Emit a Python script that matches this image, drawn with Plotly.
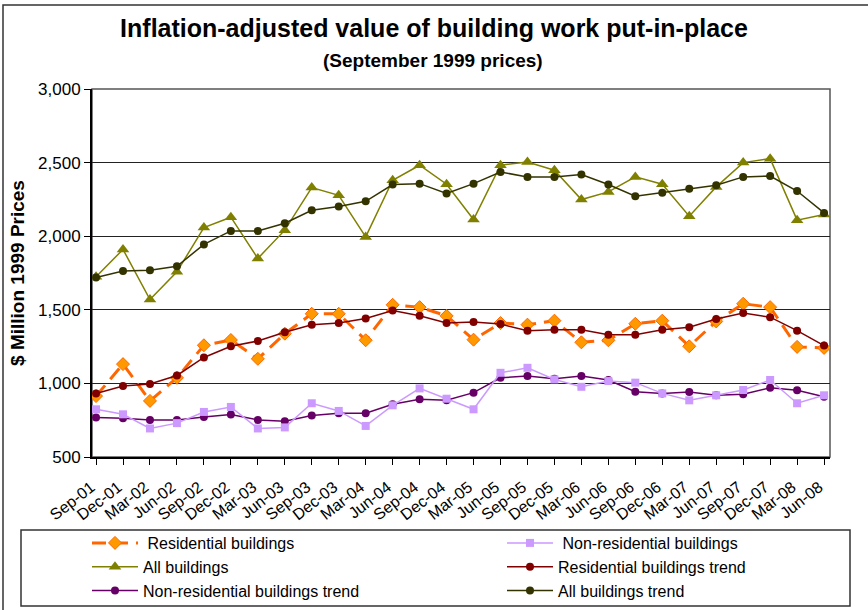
import plotly.graph_objects as go

# Quarterly values, $ million at September 1999 prices
quarters = ["Sep-01", "Dec-01", "Mar-02", "Jun-02", "Sep-02", "Dec-02", "Mar-03",
            "Jun-03", "Sep-03", "Dec-03", "Mar-04", "Jun-04", "Sep-04", "Dec-04",
            "Mar-05", "Jun-05", "Sep-05", "Dec-05", "Mar-06", "Jun-06", "Sep-06",
            "Dec-06", "Mar-07", "Jun-07", "Sep-07", "Dec-07", "Mar-08", "Jun-08"]

residential = [914, 1131, 881, 1038, 1259, 1295, 1167, 1338, 1473, 1473, 1293, 1534, 1518, 1459,
               1297, 1410, 1399, 1426, 1279, 1293, 1405, 1426, 1252, 1421, 1541, 1518, 1248, 1241]
residential_trend = [932, 982, 996, 1054, 1176, 1252, 1288, 1347, 1398, 1410, 1441, 1495, 1459, 1410,
                     1417, 1403, 1358, 1365, 1365, 1331, 1331, 1365, 1381, 1437, 1478, 1450, 1358, 1257]

non_residential = [824, 790, 694, 730, 806, 840, 694, 701, 865, 813, 711, 851, 966, 896,
                   824, 1072, 1106, 1027, 977, 1016, 1005, 932, 885, 919, 955, 1023, 865, 919]
non_residential_trend = [768, 763, 752, 752, 772, 788, 752, 743, 782, 797, 797, 858, 892, 885,
                         937, 1038, 1050, 1032, 1050, 1023, 944, 932, 941, 919, 926, 971, 953, 910]

all_buildings = [1725, 1910, 1570, 1758, 2059, 2129, 1849, 2041, 2330, 2278, 1995, 2380, 2482, 2353,
                 2113, 2482, 2504, 2448, 2249, 2301, 2403, 2353, 2136, 2335, 2500, 2527, 2109, 2147]
all_buildings_trend = [1720, 1763, 1769, 1796, 1944, 2036, 2036, 2088, 2176, 2201, 2237, 2351, 2357, 2290,
                       2357, 2436, 2403, 2403, 2419, 2351, 2271, 2296, 2323, 2346, 2403, 2409, 2307, 2158]

FONT = "Arial, Liberation Sans, sans-serif"

# plot area in pixels: left 92, right 830, top 89, bottom 457
PL, PR, PT, PB = 92, 830, 89, 457
def px_x(x):
    return (x - PL) / (PR - PL)
def px_y(y):
    return (PB - y) / (PB - PT)

fig = go.Figure()

# left legend column
fig.add_trace(go.Scatter(
    x=quarters, y=residential, name=" Residential buildings", mode="lines+markers", legend="legend",
    line=dict(color="#FF6600", width=3, dash="14px,8px"),
    marker=dict(symbol="diamond", size=10, color="#FF9900", line=dict(color="#FF6600", width=1))
))
fig.add_trace(go.Scatter(
    x=quarters, y=all_buildings, name="All buildings", mode="lines+markers", legend="legend",
    line=dict(color="#808000", width=1.5),
    marker=dict(symbol="triangle-up", size=11, color="#808000")
))
fig.add_trace(go.Scatter(
    x=quarters, y=non_residential_trend, name="Non-residential buildings trend", mode="lines+markers",
    legend="legend",
    line=dict(color="#660066", width=1.5),
    marker=dict(symbol="circle", size=8, color="#660066")
))
# right legend column
fig.add_trace(go.Scatter(
    x=quarters, y=non_residential, name=" Non-residential buildings", mode="lines+markers", legend="legend2",
    line=dict(color="#CC99FF", width=1.5),
    marker=dict(symbol="square", size=8, color="#CC99FF")
))
fig.add_trace(go.Scatter(
    x=quarters, y=residential_trend, name="Residential buildings trend", mode="lines+markers",
    legend="legend2",
    line=dict(color="#800000", width=1.5),
    marker=dict(symbol="circle", size=8, color="#800000")
))
fig.add_trace(go.Scatter(
    x=quarters, y=all_buildings_trend, name="All buildings trend", mode="lines+markers", legend="legend2",
    line=dict(color="#333300", width=1.5),
    marker=dict(symbol="circle", size=8, color="#333300")
))

legend_style = dict(orientation="v", yanchor="top", xanchor="left", itemwidth=46,
                    font=dict(size=16, family=FONT), bgcolor="rgba(0,0,0,0)",
                    traceorder="normal", borderwidth=0)

fig.update_layout(
    width=868, height=610,
    margin=dict(l=PL, r=868 - PR, t=PT, b=610 - PB, autoexpand=False),
    paper_bgcolor="white", plot_bgcolor="white",
    font=dict(family=FONT, color="black", size=15),
    title=dict(text="<b>Inflation-adjusted value of building work put-in-place</b>",
               x=0.5, xanchor="center", y=1 - 28 / 610, yanchor="middle",
               font=dict(size=25, family=FONT, color="black")),
    showlegend=True,
    legend=dict(x=px_x(87), y=px_y(526), **legend_style),
    legend2=dict(x=px_x(502), y=px_y(526), **legend_style),
    annotations=[dict(text="<b>(September 1999 prices)</b>", xref="paper", yref="paper",
                      x=px_x(433), y=px_y(60), xanchor="center", yanchor="middle",
                      showarrow=False, font=dict(size=19, family=FONT))],
    shapes=[
        # plot area frame
        dict(type="rect", xref="paper", yref="paper", x0=0, y0=0, x1=1, y1=1,
             line=dict(color="#555555", width=1.5), layer="below"),
        # legend box
        dict(type="rect", xref="paper", yref="paper",
             x0=px_x(21), y0=px_y(606), x1=px_x(850), y1=px_y(530),
             line=dict(color="#333333", width=1.5)),
        # outer chart frame
        dict(type="rect", xref="paper", yref="paper",
             x0=px_x(3), y0=px_y(640), x1=px_x(900), y1=px_y(5),
             line=dict(color="#333333", width=1.5)),
    ],
)

fig.update_xaxes(
    type="category", range=[-0.15, 27.22], automargin=False,
    showgrid=False, zeroline=False,
    showline=True, linecolor="black", linewidth=1.5,
    ticks="outside", ticklen=6, tickcolor="black",
    tickangle=-38, tickfont=dict(size=16, family=FONT),
    ticklabelstandoff=7, ticklabelshift=-5,
)
fig.update_yaxes(
    range=[500, 3000], dtick=500, tickformat=",", automargin=False,
    showgrid=True, gridcolor="#222222", gridwidth=1, zeroline=False,
    showline=True, linecolor="black", linewidth=2,
    ticks="outside", ticklen=6, tickcolor="black",
    tickfont=dict(size=17, family=FONT),
    title=dict(text="<b>$ Million 1999 Prices</b>", font=dict(size=19, family=FONT), standoff=8),
)

# drop the browser's default 8px body margin so the figure sits at the page corner
fig.write_html("out.html", config={"displayModeBar": False},
               post_script="document.body.style.margin='0';")
